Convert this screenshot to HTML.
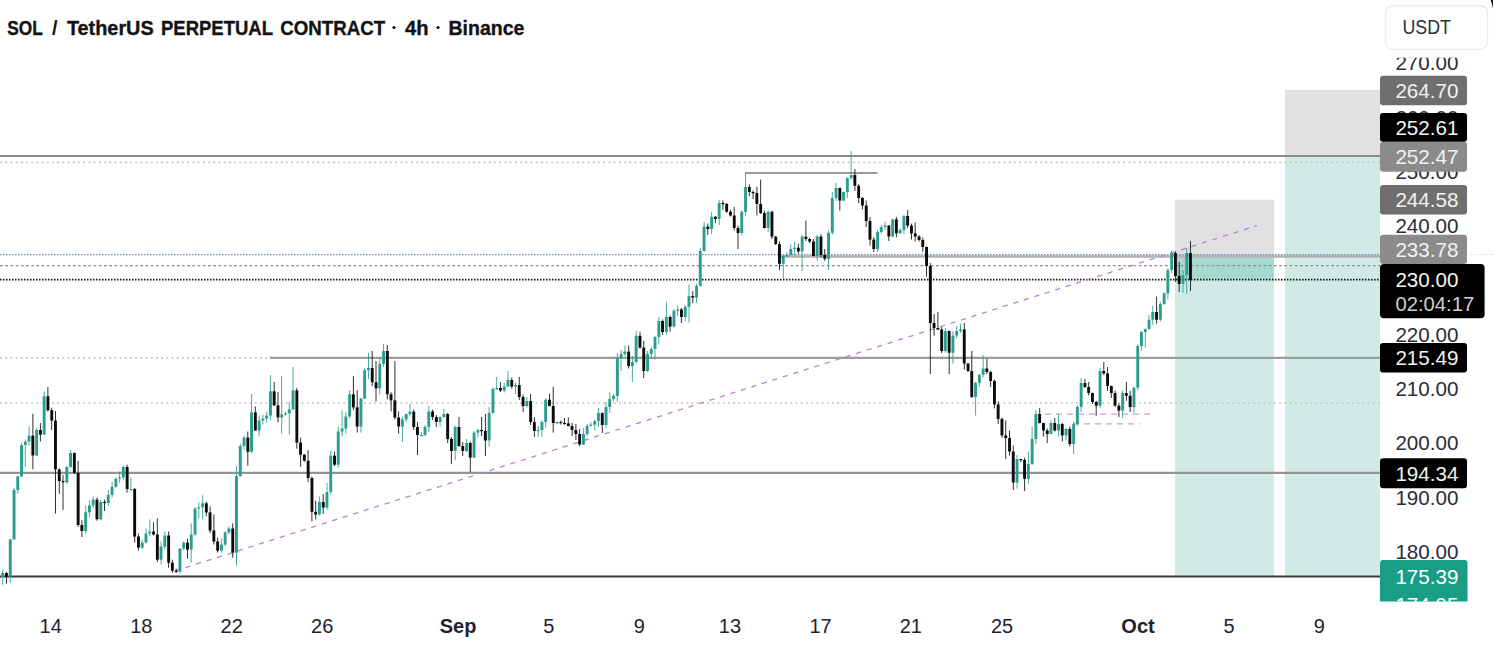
<!DOCTYPE html>
<html><head><meta charset="utf-8"><title>SOL / TetherUS PERPETUAL CONTRACT</title>
<style>
html,body{margin:0;padding:0;background:#fff;}
body{width:1493px;height:646px;overflow:hidden;font-family:"Liberation Sans",sans-serif;}
svg{display:block;font-family:"Liberation Sans",sans-serif;}
</style></head><body>
<svg width="1493" height="646" viewBox="0 0 1493 646">
<rect width="1493" height="646" fill="#fff"/>
<rect x="1175" y="199.7" width="99" height="56.3" fill="#e1e1e1"/>
<rect x="1175" y="256" width="99" height="320" fill="#d0ebe6"/>
<rect x="1175" y="257.5" width="99" height="22" fill="#a6d9d0"/>
<rect x="1285" y="90" width="95" height="67" fill="#e1e1e1"/>
<rect x="1285" y="157" width="95" height="419" fill="#d0ebe6"/>
<line x1="0.0" y1="156.0" x2="1380.0" y2="156.0" stroke="#8a8a8a" stroke-width="2.1"/>
<line x1="0.0" y1="162.4" x2="1380.0" y2="162.4" stroke="#c6c6c6" stroke-width="1.8" stroke-dasharray="2 3.2"/>
<line x1="745.0" y1="173.0" x2="877.5" y2="173.0" stroke="#989898" stroke-width="2.2"/>
<line x1="779.5" y1="256.5" x2="1380.0" y2="256.5" stroke="#b2b2b2" stroke-width="2.7"/>
<line x1="0.0" y1="254.6" x2="1380.0" y2="254.6" stroke="#4f6f9f" stroke-width="1.3" stroke-dasharray="1.5 1.5" stroke-opacity="0.8"/>
<line x1="1468.0" y1="254.6" x2="1493.0" y2="254.6" stroke="#7fa6d8" stroke-width="1.2" stroke-dasharray="1.5 1.5" stroke-opacity="0.3"/>
<line x1="0.0" y1="265.6" x2="1380.0" y2="265.6" stroke="#909090" stroke-width="1.15" stroke-dasharray="2.8 2.4"/>
<line x1="0.0" y1="279.6" x2="1380.0" y2="279.6" stroke="#111" stroke-width="1.6" stroke-dasharray="1.5 1.5"/>
<line x1="0.0" y1="357.8" x2="270.0" y2="357.8" stroke="#c2c2c2" stroke-width="1.7" stroke-dasharray="1.8 3.4"/>
<line x1="270.0" y1="357.8" x2="1380.0" y2="357.8" stroke="#9c9c9c" stroke-width="2.3"/>
<line x1="0.0" y1="403.2" x2="1380.0" y2="403.2" stroke="#c8c8c8" stroke-width="1.7" stroke-dasharray="1.8 3.4"/>
<line x1="0.0" y1="472.8" x2="1380.0" y2="472.8" stroke="#939393" stroke-width="2.2"/>
<line x1="0.0" y1="576.5" x2="1380.0" y2="576.5" stroke="#3a3a3a" stroke-width="1.9"/>
<line x1="175.0" y1="571.0" x2="1257.0" y2="225.6" stroke="#b984cc" stroke-width="1.3" stroke-dasharray="5.2 5.8"/>
<line x1="1045.0" y1="414.0" x2="1152.0" y2="414.0" stroke="#cc9bdc" stroke-width="1.25" stroke-dasharray="6 5"/>
<line x1="1073.0" y1="423.8" x2="1140.0" y2="423.8" stroke="#cc9bdc" stroke-width="1.25" stroke-dasharray="6 5"/>
<line x1="-4.8" y1="575.0" x2="-4.8" y2="582.5" stroke="#2a9d8f" stroke-width="1" stroke-opacity="0.85"/>
<rect x="-6.3" y="578.0" width="2.9" height="3.0" fill="#2a9d8f"/>
<line x1="-1.1" y1="573.0" x2="-1.1" y2="578.5" stroke="#2a9d8f" stroke-width="1" stroke-opacity="0.85"/>
<rect x="-2.5" y="577.0" width="2.9" height="1.2" fill="#2a9d8f"/>
<line x1="2.7" y1="569.6" x2="2.7" y2="584.7" stroke="#2a9d8f" stroke-width="1" stroke-opacity="0.85"/>
<rect x="1.2" y="573.0" width="2.9" height="4.0" fill="#2a9d8f"/>
<line x1="6.5" y1="572.0" x2="6.5" y2="583.7" stroke="#0c0c0c" stroke-width="1" stroke-opacity="0.85"/>
<rect x="5.0" y="573.0" width="2.9" height="3.6" fill="#0c0c0c"/>
<line x1="10.2" y1="538.9" x2="10.2" y2="582.6" stroke="#2a9d8f" stroke-width="1" stroke-opacity="0.85"/>
<rect x="8.8" y="539.4" width="2.9" height="37.2" fill="#2a9d8f"/>
<line x1="14.0" y1="488.0" x2="14.0" y2="539.9" stroke="#2a9d8f" stroke-width="1" stroke-opacity="0.85"/>
<rect x="12.6" y="490.0" width="2.9" height="49.4" fill="#2a9d8f"/>
<line x1="17.8" y1="475.5" x2="17.8" y2="494.0" stroke="#2a9d8f" stroke-width="1" stroke-opacity="0.85"/>
<rect x="16.3" y="476.5" width="2.9" height="13.5" fill="#2a9d8f"/>
<line x1="21.6" y1="442.7" x2="21.6" y2="477.5" stroke="#2a9d8f" stroke-width="1" stroke-opacity="0.85"/>
<rect x="20.1" y="445.0" width="2.9" height="31.5" fill="#2a9d8f"/>
<line x1="25.3" y1="439.5" x2="25.3" y2="467.0" stroke="#2a9d8f" stroke-width="1" stroke-opacity="0.85"/>
<rect x="23.9" y="441.5" width="2.9" height="3.5" fill="#2a9d8f"/>
<line x1="29.1" y1="426.4" x2="29.1" y2="445.5" stroke="#2a9d8f" stroke-width="1" stroke-opacity="0.85"/>
<rect x="27.6" y="435.7" width="2.9" height="5.8" fill="#2a9d8f"/>
<line x1="32.9" y1="413.7" x2="32.9" y2="469.4" stroke="#0c0c0c" stroke-width="1" stroke-opacity="0.85"/>
<rect x="31.4" y="435.7" width="2.9" height="19.8" fill="#0c0c0c"/>
<line x1="36.6" y1="428.0" x2="36.6" y2="456.0" stroke="#2a9d8f" stroke-width="1" stroke-opacity="0.85"/>
<rect x="35.2" y="430.0" width="2.9" height="25.5" fill="#2a9d8f"/>
<line x1="40.4" y1="423.0" x2="40.4" y2="441.5" stroke="#0c0c0c" stroke-width="1" stroke-opacity="0.85"/>
<rect x="39.0" y="430.0" width="2.9" height="4.6" fill="#0c0c0c"/>
<line x1="44.2" y1="391.6" x2="44.2" y2="435.1" stroke="#2a9d8f" stroke-width="1" stroke-opacity="0.85"/>
<rect x="42.7" y="396.3" width="2.9" height="38.3" fill="#2a9d8f"/>
<line x1="47.9" y1="387.0" x2="47.9" y2="411.7" stroke="#0c0c0c" stroke-width="1" stroke-opacity="0.85"/>
<rect x="46.5" y="396.3" width="2.9" height="13.9" fill="#0c0c0c"/>
<line x1="51.7" y1="407.7" x2="51.7" y2="430.0" stroke="#0c0c0c" stroke-width="1" stroke-opacity="0.85"/>
<rect x="50.3" y="410.2" width="2.9" height="10.4" fill="#0c0c0c"/>
<line x1="55.5" y1="411.0" x2="55.5" y2="513.5" stroke="#0c0c0c" stroke-width="1" stroke-opacity="0.85"/>
<rect x="54.0" y="420.6" width="2.9" height="48.8" fill="#0c0c0c"/>
<line x1="59.3" y1="468.4" x2="59.3" y2="493.8" stroke="#0c0c0c" stroke-width="1" stroke-opacity="0.85"/>
<rect x="57.8" y="469.4" width="2.9" height="11.6" fill="#0c0c0c"/>
<line x1="63.0" y1="475.0" x2="63.0" y2="510.0" stroke="#0c0c0c" stroke-width="1" stroke-opacity="0.85"/>
<rect x="61.6" y="481.0" width="2.9" height="1.2" fill="#0c0c0c"/>
<line x1="66.8" y1="466.0" x2="66.8" y2="484.2" stroke="#2a9d8f" stroke-width="1" stroke-opacity="0.85"/>
<rect x="65.4" y="467.0" width="2.9" height="15.2" fill="#2a9d8f"/>
<line x1="70.6" y1="450.0" x2="70.6" y2="468.0" stroke="#2a9d8f" stroke-width="1" stroke-opacity="0.85"/>
<rect x="69.1" y="453.0" width="2.9" height="14.0" fill="#2a9d8f"/>
<line x1="74.3" y1="452.5" x2="74.3" y2="473.9" stroke="#0c0c0c" stroke-width="1" stroke-opacity="0.85"/>
<rect x="72.9" y="453.0" width="2.9" height="19.9" fill="#0c0c0c"/>
<line x1="78.1" y1="461.0" x2="78.1" y2="527.0" stroke="#0c0c0c" stroke-width="1" stroke-opacity="0.85"/>
<rect x="76.7" y="472.9" width="2.9" height="52.1" fill="#0c0c0c"/>
<line x1="81.9" y1="520.0" x2="81.9" y2="537.0" stroke="#0c0c0c" stroke-width="1" stroke-opacity="0.85"/>
<rect x="80.4" y="525.0" width="2.9" height="6.0" fill="#0c0c0c"/>
<line x1="85.7" y1="505.4" x2="85.7" y2="534.0" stroke="#2a9d8f" stroke-width="1" stroke-opacity="0.85"/>
<rect x="84.2" y="512.3" width="2.9" height="18.7" fill="#2a9d8f"/>
<line x1="89.4" y1="500.4" x2="89.4" y2="517.3" stroke="#2a9d8f" stroke-width="1" stroke-opacity="0.85"/>
<rect x="88.0" y="505.4" width="2.9" height="6.9" fill="#2a9d8f"/>
<line x1="93.2" y1="496.6" x2="93.2" y2="507.9" stroke="#2a9d8f" stroke-width="1" stroke-opacity="0.85"/>
<rect x="91.7" y="499.6" width="2.9" height="5.8" fill="#2a9d8f"/>
<line x1="97.0" y1="497.6" x2="97.0" y2="520.8" stroke="#0c0c0c" stroke-width="1" stroke-opacity="0.85"/>
<rect x="95.5" y="499.6" width="2.9" height="19.7" fill="#0c0c0c"/>
<line x1="100.7" y1="499.9" x2="100.7" y2="520.3" stroke="#2a9d8f" stroke-width="1" stroke-opacity="0.85"/>
<rect x="99.3" y="501.9" width="2.9" height="17.4" fill="#2a9d8f"/>
<line x1="104.5" y1="499.6" x2="104.5" y2="511.0" stroke="#0c0c0c" stroke-width="1" stroke-opacity="0.85"/>
<rect x="103.1" y="501.9" width="2.9" height="1.2" fill="#0c0c0c"/>
<line x1="108.3" y1="489.9" x2="108.3" y2="506.0" stroke="#2a9d8f" stroke-width="1" stroke-opacity="0.85"/>
<rect x="106.8" y="494.9" width="2.9" height="8.1" fill="#2a9d8f"/>
<line x1="112.1" y1="481.8" x2="112.1" y2="497.4" stroke="#2a9d8f" stroke-width="1" stroke-opacity="0.85"/>
<rect x="110.6" y="486.8" width="2.9" height="8.1" fill="#2a9d8f"/>
<line x1="115.8" y1="477.7" x2="115.8" y2="487.8" stroke="#2a9d8f" stroke-width="1" stroke-opacity="0.85"/>
<rect x="114.4" y="478.7" width="2.9" height="8.1" fill="#2a9d8f"/>
<line x1="119.6" y1="471.5" x2="119.6" y2="482.7" stroke="#2a9d8f" stroke-width="1" stroke-opacity="0.85"/>
<rect x="118.1" y="477.5" width="2.9" height="1.2" fill="#2a9d8f"/>
<line x1="123.4" y1="465.5" x2="123.4" y2="480.5" stroke="#2a9d8f" stroke-width="1" stroke-opacity="0.85"/>
<rect x="121.9" y="467.0" width="2.9" height="10.5" fill="#2a9d8f"/>
<line x1="127.1" y1="464.7" x2="127.1" y2="492.6" stroke="#0c0c0c" stroke-width="1" stroke-opacity="0.85"/>
<rect x="125.7" y="467.0" width="2.9" height="22.0" fill="#0c0c0c"/>
<line x1="130.9" y1="477.5" x2="130.9" y2="490.3" stroke="#2a9d8f" stroke-width="1" stroke-opacity="0.85"/>
<rect x="129.5" y="489.0" width="2.9" height="1.2" fill="#2a9d8f"/>
<line x1="134.7" y1="488.0" x2="134.7" y2="542.5" stroke="#0c0c0c" stroke-width="1" stroke-opacity="0.85"/>
<rect x="133.2" y="489.0" width="2.9" height="47.5" fill="#0c0c0c"/>
<line x1="138.4" y1="533.5" x2="138.4" y2="550.6" stroke="#0c0c0c" stroke-width="1" stroke-opacity="0.85"/>
<rect x="137.0" y="536.5" width="2.9" height="11.1" fill="#0c0c0c"/>
<line x1="142.2" y1="539.5" x2="142.2" y2="549.6" stroke="#2a9d8f" stroke-width="1" stroke-opacity="0.85"/>
<rect x="140.8" y="542.5" width="2.9" height="5.1" fill="#2a9d8f"/>
<line x1="146.0" y1="528.5" x2="146.0" y2="543.5" stroke="#2a9d8f" stroke-width="1" stroke-opacity="0.85"/>
<rect x="144.5" y="533.5" width="2.9" height="9.0" fill="#2a9d8f"/>
<line x1="149.8" y1="519.4" x2="149.8" y2="536.0" stroke="#2a9d8f" stroke-width="1" stroke-opacity="0.85"/>
<rect x="148.3" y="531.5" width="2.9" height="2.0" fill="#2a9d8f"/>
<line x1="153.5" y1="522.4" x2="153.5" y2="535.5" stroke="#0c0c0c" stroke-width="1" stroke-opacity="0.85"/>
<rect x="152.1" y="531.5" width="2.9" height="3.0" fill="#0c0c0c"/>
<line x1="157.3" y1="518.4" x2="157.3" y2="562.2" stroke="#0c0c0c" stroke-width="1" stroke-opacity="0.85"/>
<rect x="155.9" y="534.5" width="2.9" height="25.2" fill="#0c0c0c"/>
<line x1="161.1" y1="541.6" x2="161.1" y2="564.7" stroke="#2a9d8f" stroke-width="1" stroke-opacity="0.85"/>
<rect x="159.6" y="546.6" width="2.9" height="13.1" fill="#2a9d8f"/>
<line x1="164.8" y1="531.5" x2="164.8" y2="549.6" stroke="#2a9d8f" stroke-width="1" stroke-opacity="0.85"/>
<rect x="163.4" y="535.5" width="2.9" height="11.1" fill="#2a9d8f"/>
<line x1="168.6" y1="531.5" x2="168.6" y2="567.7" stroke="#0c0c0c" stroke-width="1" stroke-opacity="0.85"/>
<rect x="167.2" y="535.5" width="2.9" height="27.2" fill="#0c0c0c"/>
<line x1="172.4" y1="559.7" x2="172.4" y2="572.9" stroke="#0c0c0c" stroke-width="1" stroke-opacity="0.85"/>
<rect x="170.9" y="562.7" width="2.9" height="8.0" fill="#0c0c0c"/>
<line x1="176.2" y1="568.5" x2="176.2" y2="573.0" stroke="#0c0c0c" stroke-width="1" stroke-opacity="0.85"/>
<rect x="174.7" y="570.7" width="2.9" height="1.2" fill="#0c0c0c"/>
<line x1="179.9" y1="548.1" x2="179.9" y2="573.7" stroke="#2a9d8f" stroke-width="1" stroke-opacity="0.85"/>
<rect x="178.5" y="548.6" width="2.9" height="23.1" fill="#2a9d8f"/>
<line x1="183.7" y1="541.5" x2="183.7" y2="550.1" stroke="#2a9d8f" stroke-width="1" stroke-opacity="0.85"/>
<rect x="182.2" y="542.6" width="2.9" height="6.0" fill="#2a9d8f"/>
<line x1="187.5" y1="538.5" x2="187.5" y2="558.7" stroke="#0c0c0c" stroke-width="1" stroke-opacity="0.85"/>
<rect x="186.0" y="542.6" width="2.9" height="7.0" fill="#0c0c0c"/>
<line x1="191.2" y1="523.4" x2="191.2" y2="562.7" stroke="#2a9d8f" stroke-width="1" stroke-opacity="0.85"/>
<rect x="189.8" y="534.5" width="2.9" height="15.1" fill="#2a9d8f"/>
<line x1="195.0" y1="507.4" x2="195.0" y2="536.0" stroke="#2a9d8f" stroke-width="1" stroke-opacity="0.85"/>
<rect x="193.6" y="508.4" width="2.9" height="26.1" fill="#2a9d8f"/>
<line x1="198.8" y1="502.3" x2="198.8" y2="518.4" stroke="#2a9d8f" stroke-width="1" stroke-opacity="0.85"/>
<rect x="197.3" y="507.3" width="2.9" height="1.2" fill="#2a9d8f"/>
<line x1="202.6" y1="495.3" x2="202.6" y2="519.4" stroke="#2a9d8f" stroke-width="1" stroke-opacity="0.85"/>
<rect x="201.1" y="503.3" width="2.9" height="4.0" fill="#2a9d8f"/>
<line x1="206.3" y1="501.8" x2="206.3" y2="516.4" stroke="#0c0c0c" stroke-width="1" stroke-opacity="0.85"/>
<rect x="204.9" y="503.3" width="2.9" height="9.1" fill="#0c0c0c"/>
<line x1="210.1" y1="506.4" x2="210.1" y2="533.0" stroke="#0c0c0c" stroke-width="1" stroke-opacity="0.85"/>
<rect x="208.6" y="512.4" width="2.9" height="18.1" fill="#0c0c0c"/>
<line x1="213.9" y1="514.4" x2="213.9" y2="544.5" stroke="#0c0c0c" stroke-width="1" stroke-opacity="0.85"/>
<rect x="212.4" y="530.5" width="2.9" height="11.0" fill="#0c0c0c"/>
<line x1="217.6" y1="537.5" x2="217.6" y2="552.6" stroke="#0c0c0c" stroke-width="1" stroke-opacity="0.85"/>
<rect x="216.2" y="541.5" width="2.9" height="9.1" fill="#0c0c0c"/>
<line x1="221.4" y1="538.5" x2="221.4" y2="552.6" stroke="#2a9d8f" stroke-width="1" stroke-opacity="0.85"/>
<rect x="220.0" y="544.6" width="2.9" height="6.0" fill="#2a9d8f"/>
<line x1="225.2" y1="531.0" x2="225.2" y2="546.1" stroke="#2a9d8f" stroke-width="1" stroke-opacity="0.85"/>
<rect x="223.7" y="532.5" width="2.9" height="12.1" fill="#2a9d8f"/>
<line x1="228.9" y1="526.5" x2="228.9" y2="534.5" stroke="#2a9d8f" stroke-width="1" stroke-opacity="0.85"/>
<rect x="227.5" y="528.5" width="2.9" height="4.0" fill="#2a9d8f"/>
<line x1="232.7" y1="523.4" x2="232.7" y2="557.6" stroke="#0c0c0c" stroke-width="1" stroke-opacity="0.85"/>
<rect x="231.3" y="528.5" width="2.9" height="24.1" fill="#0c0c0c"/>
<line x1="236.5" y1="466.0" x2="236.5" y2="565.7" stroke="#2a9d8f" stroke-width="1" stroke-opacity="0.85"/>
<rect x="235.0" y="476.2" width="2.9" height="76.4" fill="#2a9d8f"/>
<line x1="240.3" y1="443.5" x2="240.3" y2="476.7" stroke="#2a9d8f" stroke-width="1" stroke-opacity="0.85"/>
<rect x="238.8" y="446.0" width="2.9" height="30.2" fill="#2a9d8f"/>
<line x1="244.0" y1="436.1" x2="244.0" y2="450.0" stroke="#2a9d8f" stroke-width="1" stroke-opacity="0.85"/>
<rect x="242.6" y="437.6" width="2.9" height="8.4" fill="#2a9d8f"/>
<line x1="247.8" y1="431.6" x2="247.8" y2="465.8" stroke="#0c0c0c" stroke-width="1" stroke-opacity="0.85"/>
<rect x="246.4" y="437.6" width="2.9" height="14.1" fill="#0c0c0c"/>
<line x1="251.6" y1="394.0" x2="251.6" y2="453.2" stroke="#2a9d8f" stroke-width="1" stroke-opacity="0.85"/>
<rect x="250.1" y="412.4" width="2.9" height="39.3" fill="#2a9d8f"/>
<line x1="255.3" y1="406.4" x2="255.3" y2="431.0" stroke="#0c0c0c" stroke-width="1" stroke-opacity="0.85"/>
<rect x="253.9" y="412.4" width="2.9" height="18.1" fill="#0c0c0c"/>
<line x1="259.1" y1="415.5" x2="259.1" y2="436.5" stroke="#2a9d8f" stroke-width="1" stroke-opacity="0.85"/>
<rect x="257.7" y="420.5" width="2.9" height="10.0" fill="#2a9d8f"/>
<line x1="262.9" y1="414.5" x2="262.9" y2="424.5" stroke="#2a9d8f" stroke-width="1" stroke-opacity="0.85"/>
<rect x="261.4" y="418.5" width="2.9" height="2.0" fill="#2a9d8f"/>
<line x1="266.7" y1="411.5" x2="266.7" y2="422.5" stroke="#2a9d8f" stroke-width="1" stroke-opacity="0.85"/>
<rect x="265.2" y="415.5" width="2.9" height="3.0" fill="#2a9d8f"/>
<line x1="270.4" y1="375.0" x2="270.4" y2="420.5" stroke="#2a9d8f" stroke-width="1" stroke-opacity="0.85"/>
<rect x="269.0" y="391.3" width="2.9" height="24.2" fill="#2a9d8f"/>
<line x1="274.2" y1="382.0" x2="274.2" y2="405.9" stroke="#0c0c0c" stroke-width="1" stroke-opacity="0.85"/>
<rect x="272.7" y="391.3" width="2.9" height="14.1" fill="#0c0c0c"/>
<line x1="278.0" y1="392.0" x2="278.0" y2="422.5" stroke="#0c0c0c" stroke-width="1" stroke-opacity="0.85"/>
<rect x="276.5" y="405.4" width="2.9" height="12.1" fill="#0c0c0c"/>
<line x1="281.7" y1="376.0" x2="281.7" y2="433.6" stroke="#2a9d8f" stroke-width="1" stroke-opacity="0.85"/>
<rect x="280.3" y="414.5" width="2.9" height="3.0" fill="#2a9d8f"/>
<line x1="285.5" y1="412.0" x2="285.5" y2="415.5" stroke="#2a9d8f" stroke-width="1" stroke-opacity="0.85"/>
<rect x="284.1" y="413.5" width="2.9" height="1.2" fill="#2a9d8f"/>
<line x1="289.3" y1="402.0" x2="289.3" y2="434.6" stroke="#2a9d8f" stroke-width="1" stroke-opacity="0.85"/>
<rect x="287.8" y="409.4" width="2.9" height="4.1" fill="#2a9d8f"/>
<line x1="293.0" y1="367.0" x2="293.0" y2="409.9" stroke="#2a9d8f" stroke-width="1" stroke-opacity="0.85"/>
<rect x="291.6" y="390.3" width="2.9" height="19.1" fill="#2a9d8f"/>
<line x1="296.8" y1="388.0" x2="296.8" y2="448.7" stroke="#0c0c0c" stroke-width="1" stroke-opacity="0.85"/>
<rect x="295.4" y="390.3" width="2.9" height="52.3" fill="#0c0c0c"/>
<line x1="300.6" y1="437.6" x2="300.6" y2="466.8" stroke="#0c0c0c" stroke-width="1" stroke-opacity="0.85"/>
<rect x="299.1" y="442.6" width="2.9" height="12.1" fill="#0c0c0c"/>
<line x1="304.4" y1="454.2" x2="304.4" y2="461.7" stroke="#0c0c0c" stroke-width="1" stroke-opacity="0.85"/>
<rect x="302.9" y="454.7" width="2.9" height="6.0" fill="#0c0c0c"/>
<line x1="308.1" y1="450.0" x2="308.1" y2="482.0" stroke="#0c0c0c" stroke-width="1" stroke-opacity="0.85"/>
<rect x="306.7" y="460.7" width="2.9" height="17.3" fill="#0c0c0c"/>
<line x1="311.9" y1="476.5" x2="311.9" y2="521.5" stroke="#0c0c0c" stroke-width="1" stroke-opacity="0.85"/>
<rect x="310.5" y="478.0" width="2.9" height="33.8" fill="#0c0c0c"/>
<line x1="315.7" y1="500.6" x2="315.7" y2="519.4" stroke="#0c0c0c" stroke-width="1" stroke-opacity="0.85"/>
<rect x="314.2" y="511.8" width="2.9" height="2.7" fill="#0c0c0c"/>
<line x1="319.4" y1="496.5" x2="319.4" y2="515.5" stroke="#2a9d8f" stroke-width="1" stroke-opacity="0.85"/>
<rect x="318.0" y="502.0" width="2.9" height="12.5" fill="#2a9d8f"/>
<line x1="323.2" y1="494.0" x2="323.2" y2="514.0" stroke="#0c0c0c" stroke-width="1" stroke-opacity="0.85"/>
<rect x="321.8" y="502.0" width="2.9" height="5.6" fill="#0c0c0c"/>
<line x1="327.0" y1="483.0" x2="327.0" y2="510.0" stroke="#2a9d8f" stroke-width="1" stroke-opacity="0.85"/>
<rect x="325.5" y="492.0" width="2.9" height="15.6" fill="#2a9d8f"/>
<line x1="330.8" y1="450.7" x2="330.8" y2="494.5" stroke="#2a9d8f" stroke-width="1" stroke-opacity="0.85"/>
<rect x="329.3" y="455.7" width="2.9" height="36.3" fill="#2a9d8f"/>
<line x1="334.5" y1="451.7" x2="334.5" y2="466.2" stroke="#0c0c0c" stroke-width="1" stroke-opacity="0.85"/>
<rect x="333.1" y="455.7" width="2.9" height="9.0" fill="#0c0c0c"/>
<line x1="338.3" y1="426.5" x2="338.3" y2="467.7" stroke="#2a9d8f" stroke-width="1" stroke-opacity="0.85"/>
<rect x="336.8" y="431.5" width="2.9" height="33.2" fill="#2a9d8f"/>
<line x1="342.1" y1="410.4" x2="342.1" y2="436.5" stroke="#2a9d8f" stroke-width="1" stroke-opacity="0.85"/>
<rect x="340.6" y="428.5" width="2.9" height="3.0" fill="#2a9d8f"/>
<line x1="345.8" y1="412.4" x2="345.8" y2="433.6" stroke="#2a9d8f" stroke-width="1" stroke-opacity="0.85"/>
<rect x="344.4" y="416.5" width="2.9" height="12.0" fill="#2a9d8f"/>
<line x1="349.6" y1="390.3" x2="349.6" y2="418.5" stroke="#2a9d8f" stroke-width="1" stroke-opacity="0.85"/>
<rect x="348.2" y="394.3" width="2.9" height="22.2" fill="#2a9d8f"/>
<line x1="353.4" y1="376.2" x2="353.4" y2="410.4" stroke="#0c0c0c" stroke-width="1" stroke-opacity="0.85"/>
<rect x="351.9" y="394.3" width="2.9" height="13.1" fill="#0c0c0c"/>
<line x1="357.2" y1="390.3" x2="357.2" y2="432.5" stroke="#0c0c0c" stroke-width="1" stroke-opacity="0.85"/>
<rect x="355.7" y="407.4" width="2.9" height="19.1" fill="#0c0c0c"/>
<line x1="360.9" y1="397.9" x2="360.9" y2="432.6" stroke="#2a9d8f" stroke-width="1" stroke-opacity="0.85"/>
<rect x="359.5" y="398.4" width="2.9" height="28.1" fill="#2a9d8f"/>
<line x1="364.7" y1="367.7" x2="364.7" y2="399.4" stroke="#2a9d8f" stroke-width="1" stroke-opacity="0.85"/>
<rect x="363.2" y="370.2" width="2.9" height="28.2" fill="#2a9d8f"/>
<line x1="368.5" y1="353.0" x2="368.5" y2="379.0" stroke="#2a9d8f" stroke-width="1" stroke-opacity="0.85"/>
<rect x="367.0" y="368.0" width="2.9" height="2.2" fill="#2a9d8f"/>
<line x1="372.2" y1="351.0" x2="372.2" y2="386.3" stroke="#0c0c0c" stroke-width="1" stroke-opacity="0.85"/>
<rect x="370.8" y="368.0" width="2.9" height="14.3" fill="#0c0c0c"/>
<line x1="376.0" y1="361.0" x2="376.0" y2="401.4" stroke="#0c0c0c" stroke-width="1" stroke-opacity="0.85"/>
<rect x="374.6" y="382.3" width="2.9" height="6.0" fill="#0c0c0c"/>
<line x1="379.8" y1="358.0" x2="379.8" y2="394.3" stroke="#2a9d8f" stroke-width="1" stroke-opacity="0.85"/>
<rect x="378.3" y="364.0" width="2.9" height="24.3" fill="#2a9d8f"/>
<line x1="383.5" y1="344.0" x2="383.5" y2="367.0" stroke="#2a9d8f" stroke-width="1" stroke-opacity="0.85"/>
<rect x="382.1" y="351.0" width="2.9" height="13.0" fill="#2a9d8f"/>
<line x1="387.3" y1="345.0" x2="387.3" y2="399.4" stroke="#0c0c0c" stroke-width="1" stroke-opacity="0.85"/>
<rect x="385.9" y="351.0" width="2.9" height="43.3" fill="#0c0c0c"/>
<line x1="391.1" y1="392.3" x2="391.1" y2="411.4" stroke="#0c0c0c" stroke-width="1" stroke-opacity="0.85"/>
<rect x="389.6" y="394.3" width="2.9" height="6.1" fill="#0c0c0c"/>
<line x1="394.9" y1="361.0" x2="394.9" y2="419.5" stroke="#0c0c0c" stroke-width="1" stroke-opacity="0.85"/>
<rect x="393.4" y="400.4" width="2.9" height="17.1" fill="#0c0c0c"/>
<line x1="398.6" y1="411.5" x2="398.6" y2="433.6" stroke="#0c0c0c" stroke-width="1" stroke-opacity="0.85"/>
<rect x="397.2" y="417.5" width="2.9" height="9.0" fill="#0c0c0c"/>
<line x1="402.4" y1="416.5" x2="402.4" y2="442.0" stroke="#2a9d8f" stroke-width="1" stroke-opacity="0.85"/>
<rect x="401.0" y="419.5" width="2.9" height="7.0" fill="#2a9d8f"/>
<line x1="406.2" y1="413.5" x2="406.2" y2="422.0" stroke="#2a9d8f" stroke-width="1" stroke-opacity="0.85"/>
<rect x="404.7" y="414.0" width="2.9" height="5.5" fill="#2a9d8f"/>
<line x1="409.9" y1="404.0" x2="409.9" y2="416.5" stroke="#2a9d8f" stroke-width="1" stroke-opacity="0.85"/>
<rect x="408.5" y="411.6" width="2.9" height="2.4" fill="#2a9d8f"/>
<line x1="413.7" y1="409.6" x2="413.7" y2="430.0" stroke="#0c0c0c" stroke-width="1" stroke-opacity="0.85"/>
<rect x="412.3" y="411.6" width="2.9" height="15.4" fill="#0c0c0c"/>
<line x1="417.5" y1="422.0" x2="417.5" y2="455.0" stroke="#0c0c0c" stroke-width="1" stroke-opacity="0.85"/>
<rect x="416.0" y="427.0" width="2.9" height="8.0" fill="#0c0c0c"/>
<line x1="421.3" y1="432.0" x2="421.3" y2="436.0" stroke="#2a9d8f" stroke-width="1" stroke-opacity="0.85"/>
<rect x="419.8" y="435.0" width="2.9" height="1.2" fill="#2a9d8f"/>
<line x1="425.0" y1="425.0" x2="425.0" y2="436.0" stroke="#2a9d8f" stroke-width="1" stroke-opacity="0.85"/>
<rect x="423.6" y="427.0" width="2.9" height="8.0" fill="#2a9d8f"/>
<line x1="428.8" y1="406.0" x2="428.8" y2="432.0" stroke="#2a9d8f" stroke-width="1" stroke-opacity="0.85"/>
<rect x="427.3" y="411.6" width="2.9" height="15.4" fill="#2a9d8f"/>
<line x1="432.6" y1="409.6" x2="432.6" y2="420.0" stroke="#0c0c0c" stroke-width="1" stroke-opacity="0.85"/>
<rect x="431.1" y="411.6" width="2.9" height="5.4" fill="#0c0c0c"/>
<line x1="436.3" y1="415.0" x2="436.3" y2="427.0" stroke="#0c0c0c" stroke-width="1" stroke-opacity="0.85"/>
<rect x="434.9" y="417.0" width="2.9" height="5.0" fill="#0c0c0c"/>
<line x1="440.1" y1="416.5" x2="440.1" y2="427.0" stroke="#2a9d8f" stroke-width="1" stroke-opacity="0.85"/>
<rect x="438.7" y="417.0" width="2.9" height="5.0" fill="#2a9d8f"/>
<line x1="443.9" y1="409.0" x2="443.9" y2="418.0" stroke="#2a9d8f" stroke-width="1" stroke-opacity="0.85"/>
<rect x="442.4" y="414.0" width="2.9" height="3.0" fill="#2a9d8f"/>
<line x1="447.7" y1="413.0" x2="447.7" y2="443.0" stroke="#0c0c0c" stroke-width="1" stroke-opacity="0.85"/>
<rect x="446.2" y="414.0" width="2.9" height="25.0" fill="#0c0c0c"/>
<line x1="451.4" y1="437.0" x2="451.4" y2="464.0" stroke="#0c0c0c" stroke-width="1" stroke-opacity="0.85"/>
<rect x="450.0" y="439.0" width="2.9" height="12.0" fill="#0c0c0c"/>
<line x1="455.2" y1="425.5" x2="455.2" y2="460.0" stroke="#2a9d8f" stroke-width="1" stroke-opacity="0.85"/>
<rect x="453.7" y="427.0" width="2.9" height="24.0" fill="#2a9d8f"/>
<line x1="459.0" y1="417.0" x2="459.0" y2="447.0" stroke="#0c0c0c" stroke-width="1" stroke-opacity="0.85"/>
<rect x="457.5" y="427.0" width="2.9" height="19.0" fill="#0c0c0c"/>
<line x1="462.7" y1="442.0" x2="462.7" y2="456.0" stroke="#0c0c0c" stroke-width="1" stroke-opacity="0.85"/>
<rect x="461.3" y="446.0" width="2.9" height="5.0" fill="#0c0c0c"/>
<line x1="466.5" y1="439.0" x2="466.5" y2="452.0" stroke="#2a9d8f" stroke-width="1" stroke-opacity="0.85"/>
<rect x="465.1" y="443.0" width="2.9" height="8.0" fill="#2a9d8f"/>
<line x1="470.3" y1="441.5" x2="470.3" y2="472.0" stroke="#0c0c0c" stroke-width="1" stroke-opacity="0.85"/>
<rect x="468.8" y="443.0" width="2.9" height="14.6" fill="#0c0c0c"/>
<line x1="474.0" y1="431.1" x2="474.0" y2="458.1" stroke="#2a9d8f" stroke-width="1" stroke-opacity="0.85"/>
<rect x="472.6" y="432.6" width="2.9" height="25.0" fill="#2a9d8f"/>
<line x1="477.8" y1="428.5" x2="477.8" y2="437.6" stroke="#2a9d8f" stroke-width="1" stroke-opacity="0.85"/>
<rect x="476.4" y="430.0" width="2.9" height="2.6" fill="#2a9d8f"/>
<line x1="481.6" y1="417.0" x2="481.6" y2="436.0" stroke="#0c0c0c" stroke-width="1" stroke-opacity="0.85"/>
<rect x="480.1" y="430.0" width="2.9" height="1.2" fill="#0c0c0c"/>
<line x1="485.4" y1="414.0" x2="485.4" y2="456.0" stroke="#0c0c0c" stroke-width="1" stroke-opacity="0.85"/>
<rect x="483.9" y="431.0" width="2.9" height="9.5" fill="#0c0c0c"/>
<line x1="489.1" y1="407.0" x2="489.1" y2="446.5" stroke="#2a9d8f" stroke-width="1" stroke-opacity="0.85"/>
<rect x="487.7" y="413.0" width="2.9" height="27.5" fill="#2a9d8f"/>
<line x1="492.9" y1="387.5" x2="492.9" y2="413.5" stroke="#2a9d8f" stroke-width="1" stroke-opacity="0.85"/>
<rect x="491.5" y="389.0" width="2.9" height="24.0" fill="#2a9d8f"/>
<line x1="496.7" y1="377.0" x2="496.7" y2="390.0" stroke="#2a9d8f" stroke-width="1" stroke-opacity="0.85"/>
<rect x="495.2" y="388.0" width="2.9" height="1.2" fill="#2a9d8f"/>
<line x1="500.4" y1="382.0" x2="500.4" y2="392.0" stroke="#0c0c0c" stroke-width="1" stroke-opacity="0.85"/>
<rect x="499.0" y="388.0" width="2.9" height="2.5" fill="#0c0c0c"/>
<line x1="504.2" y1="382.6" x2="504.2" y2="392.5" stroke="#2a9d8f" stroke-width="1" stroke-opacity="0.85"/>
<rect x="502.8" y="386.6" width="2.9" height="3.9" fill="#2a9d8f"/>
<line x1="508.0" y1="371.0" x2="508.0" y2="387.1" stroke="#2a9d8f" stroke-width="1" stroke-opacity="0.85"/>
<rect x="506.5" y="380.0" width="2.9" height="6.6" fill="#2a9d8f"/>
<line x1="511.8" y1="377.5" x2="511.8" y2="388.6" stroke="#0c0c0c" stroke-width="1" stroke-opacity="0.85"/>
<rect x="510.3" y="380.0" width="2.9" height="6.6" fill="#0c0c0c"/>
<line x1="515.5" y1="382.5" x2="515.5" y2="394.0" stroke="#2a9d8f" stroke-width="1" stroke-opacity="0.85"/>
<rect x="514.1" y="385.0" width="2.9" height="1.6" fill="#2a9d8f"/>
<line x1="519.3" y1="377.0" x2="519.3" y2="400.0" stroke="#0c0c0c" stroke-width="1" stroke-opacity="0.85"/>
<rect x="517.8" y="385.0" width="2.9" height="12.0" fill="#0c0c0c"/>
<line x1="523.1" y1="394.5" x2="523.1" y2="412.0" stroke="#0c0c0c" stroke-width="1" stroke-opacity="0.85"/>
<rect x="521.6" y="397.0" width="2.9" height="9.0" fill="#0c0c0c"/>
<line x1="526.8" y1="397.0" x2="526.8" y2="407.5" stroke="#2a9d8f" stroke-width="1" stroke-opacity="0.85"/>
<rect x="525.4" y="401.0" width="2.9" height="5.0" fill="#2a9d8f"/>
<line x1="530.6" y1="394.0" x2="530.6" y2="425.0" stroke="#0c0c0c" stroke-width="1" stroke-opacity="0.85"/>
<rect x="529.2" y="401.0" width="2.9" height="21.0" fill="#0c0c0c"/>
<line x1="534.4" y1="417.0" x2="534.4" y2="437.0" stroke="#0c0c0c" stroke-width="1" stroke-opacity="0.85"/>
<rect x="532.9" y="422.0" width="2.9" height="9.0" fill="#0c0c0c"/>
<line x1="538.2" y1="426.0" x2="538.2" y2="437.0" stroke="#2a9d8f" stroke-width="1" stroke-opacity="0.85"/>
<rect x="536.7" y="430.0" width="2.9" height="1.2" fill="#2a9d8f"/>
<line x1="541.9" y1="420.5" x2="541.9" y2="436.6" stroke="#2a9d8f" stroke-width="1" stroke-opacity="0.85"/>
<rect x="540.5" y="422.0" width="2.9" height="8.0" fill="#2a9d8f"/>
<line x1="545.7" y1="398.2" x2="545.7" y2="428.0" stroke="#2a9d8f" stroke-width="1" stroke-opacity="0.85"/>
<rect x="544.2" y="399.7" width="2.9" height="22.3" fill="#2a9d8f"/>
<line x1="549.5" y1="393.7" x2="549.5" y2="406.5" stroke="#0c0c0c" stroke-width="1" stroke-opacity="0.85"/>
<rect x="548.0" y="399.7" width="2.9" height="6.3" fill="#0c0c0c"/>
<line x1="553.2" y1="386.6" x2="553.2" y2="432.6" stroke="#0c0c0c" stroke-width="1" stroke-opacity="0.85"/>
<rect x="551.8" y="406.0" width="2.9" height="17.0" fill="#0c0c0c"/>
<line x1="557.0" y1="421.5" x2="557.0" y2="424.5" stroke="#2a9d8f" stroke-width="1" stroke-opacity="0.85"/>
<rect x="555.6" y="422.0" width="2.9" height="1.2" fill="#2a9d8f"/>
<line x1="560.8" y1="420.5" x2="560.8" y2="424.5" stroke="#0c0c0c" stroke-width="1" stroke-opacity="0.85"/>
<rect x="559.3" y="422.0" width="2.9" height="1.2" fill="#0c0c0c"/>
<line x1="564.5" y1="418.0" x2="564.5" y2="424.4" stroke="#0c0c0c" stroke-width="1" stroke-opacity="0.85"/>
<rect x="563.1" y="423.0" width="2.9" height="1.2" fill="#0c0c0c"/>
<line x1="568.3" y1="417.4" x2="568.3" y2="426.5" stroke="#0c0c0c" stroke-width="1" stroke-opacity="0.85"/>
<rect x="566.9" y="423.4" width="2.9" height="2.6" fill="#0c0c0c"/>
<line x1="572.1" y1="423.0" x2="572.1" y2="436.0" stroke="#0c0c0c" stroke-width="1" stroke-opacity="0.85"/>
<rect x="570.6" y="426.0" width="2.9" height="4.0" fill="#0c0c0c"/>
<line x1="575.9" y1="424.0" x2="575.9" y2="440.0" stroke="#0c0c0c" stroke-width="1" stroke-opacity="0.85"/>
<rect x="574.4" y="430.0" width="2.9" height="4.0" fill="#0c0c0c"/>
<line x1="579.6" y1="429.0" x2="579.6" y2="446.0" stroke="#0c0c0c" stroke-width="1" stroke-opacity="0.85"/>
<rect x="578.2" y="434.0" width="2.9" height="10.5" fill="#0c0c0c"/>
<line x1="583.4" y1="428.0" x2="583.4" y2="445.0" stroke="#2a9d8f" stroke-width="1" stroke-opacity="0.85"/>
<rect x="582.0" y="434.0" width="2.9" height="10.5" fill="#2a9d8f"/>
<line x1="587.2" y1="424.0" x2="587.2" y2="436.0" stroke="#2a9d8f" stroke-width="1" stroke-opacity="0.85"/>
<rect x="585.7" y="426.0" width="2.9" height="8.0" fill="#2a9d8f"/>
<line x1="590.9" y1="422.2" x2="590.9" y2="426.5" stroke="#2a9d8f" stroke-width="1" stroke-opacity="0.85"/>
<rect x="589.5" y="424.7" width="2.9" height="1.3" fill="#2a9d8f"/>
<line x1="594.7" y1="420.0" x2="594.7" y2="430.7" stroke="#2a9d8f" stroke-width="1" stroke-opacity="0.85"/>
<rect x="593.3" y="421.0" width="2.9" height="3.7" fill="#2a9d8f"/>
<line x1="598.5" y1="408.0" x2="598.5" y2="427.0" stroke="#2a9d8f" stroke-width="1" stroke-opacity="0.85"/>
<rect x="597.0" y="413.0" width="2.9" height="8.0" fill="#2a9d8f"/>
<line x1="602.3" y1="412.5" x2="602.3" y2="433.0" stroke="#0c0c0c" stroke-width="1" stroke-opacity="0.85"/>
<rect x="600.8" y="413.0" width="2.9" height="12.0" fill="#0c0c0c"/>
<line x1="606.0" y1="402.0" x2="606.0" y2="428.0" stroke="#2a9d8f" stroke-width="1" stroke-opacity="0.85"/>
<rect x="604.6" y="407.0" width="2.9" height="18.0" fill="#2a9d8f"/>
<line x1="609.8" y1="392.0" x2="609.8" y2="413.0" stroke="#2a9d8f" stroke-width="1" stroke-opacity="0.85"/>
<rect x="608.3" y="399.0" width="2.9" height="8.0" fill="#2a9d8f"/>
<line x1="613.6" y1="394.0" x2="613.6" y2="401.5" stroke="#2a9d8f" stroke-width="1" stroke-opacity="0.85"/>
<rect x="612.1" y="396.0" width="2.9" height="3.0" fill="#2a9d8f"/>
<line x1="617.3" y1="353.0" x2="617.3" y2="402.0" stroke="#2a9d8f" stroke-width="1" stroke-opacity="0.85"/>
<rect x="615.9" y="358.0" width="2.9" height="38.0" fill="#2a9d8f"/>
<line x1="621.1" y1="350.0" x2="621.1" y2="371.0" stroke="#2a9d8f" stroke-width="1" stroke-opacity="0.85"/>
<rect x="619.7" y="354.0" width="2.9" height="4.0" fill="#2a9d8f"/>
<line x1="624.9" y1="345.6" x2="624.9" y2="356.0" stroke="#2a9d8f" stroke-width="1" stroke-opacity="0.85"/>
<rect x="623.4" y="351.6" width="2.9" height="2.4" fill="#2a9d8f"/>
<line x1="628.7" y1="345.6" x2="628.7" y2="368.5" stroke="#0c0c0c" stroke-width="1" stroke-opacity="0.85"/>
<rect x="627.2" y="351.6" width="2.9" height="14.4" fill="#0c0c0c"/>
<line x1="632.4" y1="356.0" x2="632.4" y2="382.0" stroke="#2a9d8f" stroke-width="1" stroke-opacity="0.85"/>
<rect x="631.0" y="362.0" width="2.9" height="4.0" fill="#2a9d8f"/>
<line x1="636.2" y1="330.8" x2="636.2" y2="363.5" stroke="#2a9d8f" stroke-width="1" stroke-opacity="0.85"/>
<rect x="634.7" y="335.8" width="2.9" height="26.2" fill="#2a9d8f"/>
<line x1="640.0" y1="331.8" x2="640.0" y2="348.6" stroke="#0c0c0c" stroke-width="1" stroke-opacity="0.85"/>
<rect x="638.5" y="335.8" width="2.9" height="11.8" fill="#0c0c0c"/>
<line x1="643.7" y1="341.0" x2="643.7" y2="378.0" stroke="#0c0c0c" stroke-width="1" stroke-opacity="0.85"/>
<rect x="642.3" y="347.6" width="2.9" height="23.4" fill="#0c0c0c"/>
<line x1="647.5" y1="351.0" x2="647.5" y2="372.0" stroke="#2a9d8f" stroke-width="1" stroke-opacity="0.85"/>
<rect x="646.1" y="354.0" width="2.9" height="17.0" fill="#2a9d8f"/>
<line x1="651.3" y1="347.0" x2="651.3" y2="358.0" stroke="#2a9d8f" stroke-width="1" stroke-opacity="0.85"/>
<rect x="649.8" y="349.0" width="2.9" height="5.0" fill="#2a9d8f"/>
<line x1="655.0" y1="336.0" x2="655.0" y2="359.5" stroke="#2a9d8f" stroke-width="1" stroke-opacity="0.85"/>
<rect x="653.6" y="337.0" width="2.9" height="12.0" fill="#2a9d8f"/>
<line x1="658.8" y1="317.0" x2="658.8" y2="344.6" stroke="#2a9d8f" stroke-width="1" stroke-opacity="0.85"/>
<rect x="657.4" y="321.0" width="2.9" height="16.0" fill="#2a9d8f"/>
<line x1="662.6" y1="319.5" x2="662.6" y2="335.0" stroke="#0c0c0c" stroke-width="1" stroke-opacity="0.85"/>
<rect x="661.1" y="321.0" width="2.9" height="11.0" fill="#0c0c0c"/>
<line x1="666.4" y1="301.6" x2="666.4" y2="334.5" stroke="#2a9d8f" stroke-width="1" stroke-opacity="0.85"/>
<rect x="664.9" y="317.0" width="2.9" height="15.0" fill="#2a9d8f"/>
<line x1="670.1" y1="315.5" x2="670.1" y2="331.6" stroke="#0c0c0c" stroke-width="1" stroke-opacity="0.85"/>
<rect x="668.7" y="317.0" width="2.9" height="9.6" fill="#0c0c0c"/>
<line x1="673.9" y1="308.8" x2="673.9" y2="327.6" stroke="#2a9d8f" stroke-width="1" stroke-opacity="0.85"/>
<rect x="672.5" y="310.8" width="2.9" height="15.8" fill="#2a9d8f"/>
<line x1="677.7" y1="305.5" x2="677.7" y2="315.8" stroke="#2a9d8f" stroke-width="1" stroke-opacity="0.85"/>
<rect x="676.2" y="309.5" width="2.9" height="1.3" fill="#2a9d8f"/>
<line x1="681.4" y1="308.0" x2="681.4" y2="323.0" stroke="#0c0c0c" stroke-width="1" stroke-opacity="0.85"/>
<rect x="680.0" y="309.5" width="2.9" height="7.5" fill="#0c0c0c"/>
<line x1="685.2" y1="305.3" x2="685.2" y2="321.0" stroke="#2a9d8f" stroke-width="1" stroke-opacity="0.85"/>
<rect x="683.8" y="306.8" width="2.9" height="10.2" fill="#2a9d8f"/>
<line x1="689.0" y1="284.5" x2="689.0" y2="322.6" stroke="#2a9d8f" stroke-width="1" stroke-opacity="0.85"/>
<rect x="687.5" y="296.0" width="2.9" height="10.8" fill="#2a9d8f"/>
<line x1="692.8" y1="291.0" x2="692.8" y2="303.0" stroke="#0c0c0c" stroke-width="1" stroke-opacity="0.85"/>
<rect x="691.3" y="296.0" width="2.9" height="1.6" fill="#0c0c0c"/>
<line x1="696.5" y1="283.8" x2="696.5" y2="303.0" stroke="#2a9d8f" stroke-width="1" stroke-opacity="0.85"/>
<rect x="695.1" y="285.8" width="2.9" height="11.8" fill="#2a9d8f"/>
<line x1="700.3" y1="248.0" x2="700.3" y2="286.8" stroke="#2a9d8f" stroke-width="1" stroke-opacity="0.85"/>
<rect x="698.8" y="251.0" width="2.9" height="34.8" fill="#2a9d8f"/>
<line x1="704.1" y1="222.0" x2="704.1" y2="251.5" stroke="#2a9d8f" stroke-width="1" stroke-opacity="0.85"/>
<rect x="702.6" y="226.6" width="2.9" height="24.4" fill="#2a9d8f"/>
<line x1="707.8" y1="223.6" x2="707.8" y2="235.0" stroke="#0c0c0c" stroke-width="1" stroke-opacity="0.85"/>
<rect x="706.4" y="226.6" width="2.9" height="2.4" fill="#0c0c0c"/>
<line x1="711.6" y1="211.7" x2="711.6" y2="234.0" stroke="#2a9d8f" stroke-width="1" stroke-opacity="0.85"/>
<rect x="710.2" y="216.7" width="2.9" height="12.3" fill="#2a9d8f"/>
<line x1="715.4" y1="216.2" x2="715.4" y2="223.0" stroke="#0c0c0c" stroke-width="1" stroke-opacity="0.85"/>
<rect x="713.9" y="216.7" width="2.9" height="2.3" fill="#0c0c0c"/>
<line x1="719.2" y1="200.0" x2="719.2" y2="225.0" stroke="#2a9d8f" stroke-width="1" stroke-opacity="0.85"/>
<rect x="717.7" y="203.0" width="2.9" height="16.0" fill="#2a9d8f"/>
<line x1="722.9" y1="200.5" x2="722.9" y2="210.0" stroke="#0c0c0c" stroke-width="1" stroke-opacity="0.85"/>
<rect x="721.5" y="203.0" width="2.9" height="1.2" fill="#0c0c0c"/>
<line x1="726.7" y1="203.0" x2="726.7" y2="212.8" stroke="#0c0c0c" stroke-width="1" stroke-opacity="0.85"/>
<rect x="725.2" y="204.0" width="2.9" height="7.8" fill="#0c0c0c"/>
<line x1="730.5" y1="209.8" x2="730.5" y2="216.5" stroke="#0c0c0c" stroke-width="1" stroke-opacity="0.85"/>
<rect x="729.0" y="211.8" width="2.9" height="3.7" fill="#0c0c0c"/>
<line x1="734.2" y1="207.0" x2="734.2" y2="230.5" stroke="#0c0c0c" stroke-width="1" stroke-opacity="0.85"/>
<rect x="732.8" y="215.5" width="2.9" height="12.5" fill="#0c0c0c"/>
<line x1="738.0" y1="225.5" x2="738.0" y2="249.0" stroke="#0c0c0c" stroke-width="1" stroke-opacity="0.85"/>
<rect x="736.6" y="228.0" width="2.9" height="5.0" fill="#0c0c0c"/>
<line x1="741.8" y1="210.3" x2="741.8" y2="235.5" stroke="#2a9d8f" stroke-width="1" stroke-opacity="0.85"/>
<rect x="740.3" y="211.8" width="2.9" height="21.2" fill="#2a9d8f"/>
<line x1="745.5" y1="173.0" x2="745.5" y2="215.8" stroke="#2a9d8f" stroke-width="1" stroke-opacity="0.85"/>
<rect x="744.1" y="187.0" width="2.9" height="24.8" fill="#2a9d8f"/>
<line x1="749.3" y1="184.5" x2="749.3" y2="196.0" stroke="#0c0c0c" stroke-width="1" stroke-opacity="0.85"/>
<rect x="747.9" y="187.0" width="2.9" height="5.0" fill="#0c0c0c"/>
<line x1="753.1" y1="190.5" x2="753.1" y2="199.0" stroke="#0c0c0c" stroke-width="1" stroke-opacity="0.85"/>
<rect x="751.6" y="192.0" width="2.9" height="1.2" fill="#0c0c0c"/>
<line x1="756.9" y1="187.0" x2="756.9" y2="215.5" stroke="#0c0c0c" stroke-width="1" stroke-opacity="0.85"/>
<rect x="755.4" y="193.0" width="2.9" height="11.0" fill="#0c0c0c"/>
<line x1="760.6" y1="179.6" x2="760.6" y2="214.0" stroke="#0c0c0c" stroke-width="1" stroke-opacity="0.85"/>
<rect x="759.2" y="204.0" width="2.9" height="9.0" fill="#0c0c0c"/>
<line x1="764.4" y1="210.5" x2="764.4" y2="228.5" stroke="#0c0c0c" stroke-width="1" stroke-opacity="0.85"/>
<rect x="762.9" y="213.0" width="2.9" height="15.0" fill="#0c0c0c"/>
<line x1="768.2" y1="210.3" x2="768.2" y2="232.0" stroke="#2a9d8f" stroke-width="1" stroke-opacity="0.85"/>
<rect x="766.7" y="211.8" width="2.9" height="16.2" fill="#2a9d8f"/>
<line x1="771.9" y1="210.8" x2="771.9" y2="239.1" stroke="#0c0c0c" stroke-width="1" stroke-opacity="0.85"/>
<rect x="770.5" y="211.8" width="2.9" height="24.8" fill="#0c0c0c"/>
<line x1="775.7" y1="236.1" x2="775.7" y2="245.0" stroke="#0c0c0c" stroke-width="1" stroke-opacity="0.85"/>
<rect x="774.3" y="236.6" width="2.9" height="7.4" fill="#0c0c0c"/>
<line x1="779.5" y1="241.5" x2="779.5" y2="270.0" stroke="#0c0c0c" stroke-width="1" stroke-opacity="0.85"/>
<rect x="778.0" y="244.0" width="2.9" height="19.8" fill="#0c0c0c"/>
<line x1="783.3" y1="254.0" x2="783.3" y2="278.6" stroke="#2a9d8f" stroke-width="1" stroke-opacity="0.85"/>
<rect x="781.8" y="256.0" width="2.9" height="7.8" fill="#2a9d8f"/>
<line x1="787.0" y1="252.5" x2="787.0" y2="257.0" stroke="#2a9d8f" stroke-width="1" stroke-opacity="0.85"/>
<rect x="785.6" y="255.0" width="2.9" height="1.2" fill="#2a9d8f"/>
<line x1="790.8" y1="244.0" x2="790.8" y2="255.5" stroke="#2a9d8f" stroke-width="1" stroke-opacity="0.85"/>
<rect x="789.3" y="249.0" width="2.9" height="6.0" fill="#2a9d8f"/>
<line x1="794.6" y1="241.5" x2="794.6" y2="255.0" stroke="#2a9d8f" stroke-width="1" stroke-opacity="0.85"/>
<rect x="793.1" y="247.7" width="2.9" height="1.3" fill="#2a9d8f"/>
<line x1="798.3" y1="243.7" x2="798.3" y2="253.9" stroke="#0c0c0c" stroke-width="1" stroke-opacity="0.85"/>
<rect x="796.9" y="247.7" width="2.9" height="3.7" fill="#0c0c0c"/>
<line x1="802.1" y1="235.1" x2="802.1" y2="271.0" stroke="#2a9d8f" stroke-width="1" stroke-opacity="0.85"/>
<rect x="800.7" y="236.6" width="2.9" height="14.8" fill="#2a9d8f"/>
<line x1="805.9" y1="220.5" x2="805.9" y2="241.0" stroke="#0c0c0c" stroke-width="1" stroke-opacity="0.85"/>
<rect x="804.4" y="236.6" width="2.9" height="2.4" fill="#0c0c0c"/>
<line x1="809.6" y1="238.0" x2="809.6" y2="243.0" stroke="#0c0c0c" stroke-width="1" stroke-opacity="0.85"/>
<rect x="808.2" y="239.0" width="2.9" height="2.5" fill="#0c0c0c"/>
<line x1="813.4" y1="239.0" x2="813.4" y2="256.5" stroke="#0c0c0c" stroke-width="1" stroke-opacity="0.85"/>
<rect x="812.0" y="241.5" width="2.9" height="14.5" fill="#0c0c0c"/>
<line x1="817.2" y1="235.1" x2="817.2" y2="261.0" stroke="#2a9d8f" stroke-width="1" stroke-opacity="0.85"/>
<rect x="815.7" y="236.6" width="2.9" height="19.4" fill="#2a9d8f"/>
<line x1="821.0" y1="234.1" x2="821.0" y2="257.5" stroke="#0c0c0c" stroke-width="1" stroke-opacity="0.85"/>
<rect x="819.5" y="236.6" width="2.9" height="18.4" fill="#0c0c0c"/>
<line x1="824.7" y1="249.0" x2="824.7" y2="260.8" stroke="#0c0c0c" stroke-width="1" stroke-opacity="0.85"/>
<rect x="823.3" y="255.0" width="2.9" height="3.8" fill="#0c0c0c"/>
<line x1="828.5" y1="230.3" x2="828.5" y2="270.0" stroke="#2a9d8f" stroke-width="1" stroke-opacity="0.85"/>
<rect x="827.1" y="232.8" width="2.9" height="26.0" fill="#2a9d8f"/>
<line x1="832.3" y1="192.0" x2="832.3" y2="234.3" stroke="#2a9d8f" stroke-width="1" stroke-opacity="0.85"/>
<rect x="830.8" y="198.0" width="2.9" height="34.8" fill="#2a9d8f"/>
<line x1="836.0" y1="183.0" x2="836.0" y2="201.0" stroke="#2a9d8f" stroke-width="1" stroke-opacity="0.85"/>
<rect x="834.6" y="188.0" width="2.9" height="10.0" fill="#2a9d8f"/>
<line x1="839.8" y1="187.5" x2="839.8" y2="210.5" stroke="#0c0c0c" stroke-width="1" stroke-opacity="0.85"/>
<rect x="838.4" y="188.0" width="2.9" height="12.6" fill="#0c0c0c"/>
<line x1="843.6" y1="191.5" x2="843.6" y2="201.1" stroke="#2a9d8f" stroke-width="1" stroke-opacity="0.85"/>
<rect x="842.1" y="192.0" width="2.9" height="8.6" fill="#2a9d8f"/>
<line x1="847.4" y1="177.5" x2="847.4" y2="198.0" stroke="#2a9d8f" stroke-width="1" stroke-opacity="0.85"/>
<rect x="845.9" y="178.0" width="2.9" height="14.0" fill="#2a9d8f"/>
<line x1="851.1" y1="151.0" x2="851.1" y2="180.0" stroke="#2a9d8f" stroke-width="1" stroke-opacity="0.85"/>
<rect x="849.7" y="175.0" width="2.9" height="3.0" fill="#2a9d8f"/>
<line x1="854.9" y1="169.0" x2="854.9" y2="190.8" stroke="#0c0c0c" stroke-width="1" stroke-opacity="0.85"/>
<rect x="853.4" y="175.0" width="2.9" height="10.8" fill="#0c0c0c"/>
<line x1="858.7" y1="183.8" x2="858.7" y2="203.0" stroke="#0c0c0c" stroke-width="1" stroke-opacity="0.85"/>
<rect x="857.2" y="185.8" width="2.9" height="12.2" fill="#0c0c0c"/>
<line x1="862.4" y1="197.0" x2="862.4" y2="209.5" stroke="#0c0c0c" stroke-width="1" stroke-opacity="0.85"/>
<rect x="861.0" y="198.0" width="2.9" height="7.5" fill="#0c0c0c"/>
<line x1="866.2" y1="200.5" x2="866.2" y2="227.0" stroke="#0c0c0c" stroke-width="1" stroke-opacity="0.85"/>
<rect x="864.8" y="205.5" width="2.9" height="15.5" fill="#0c0c0c"/>
<line x1="870.0" y1="217.0" x2="870.0" y2="245.6" stroke="#0c0c0c" stroke-width="1" stroke-opacity="0.85"/>
<rect x="868.5" y="221.0" width="2.9" height="18.6" fill="#0c0c0c"/>
<line x1="873.8" y1="237.1" x2="873.8" y2="252.0" stroke="#0c0c0c" stroke-width="1" stroke-opacity="0.85"/>
<rect x="872.3" y="239.6" width="2.9" height="9.4" fill="#0c0c0c"/>
<line x1="877.5" y1="230.0" x2="877.5" y2="252.0" stroke="#2a9d8f" stroke-width="1" stroke-opacity="0.85"/>
<rect x="876.1" y="232.0" width="2.9" height="17.0" fill="#2a9d8f"/>
<line x1="881.3" y1="225.0" x2="881.3" y2="233.5" stroke="#2a9d8f" stroke-width="1" stroke-opacity="0.85"/>
<rect x="879.8" y="227.0" width="2.9" height="5.0" fill="#2a9d8f"/>
<line x1="885.1" y1="221.6" x2="885.1" y2="230.0" stroke="#2a9d8f" stroke-width="1" stroke-opacity="0.85"/>
<rect x="883.6" y="225.6" width="2.9" height="1.4" fill="#2a9d8f"/>
<line x1="888.8" y1="225.1" x2="888.8" y2="241.0" stroke="#0c0c0c" stroke-width="1" stroke-opacity="0.85"/>
<rect x="887.4" y="225.6" width="2.9" height="10.9" fill="#0c0c0c"/>
<line x1="892.6" y1="218.9" x2="892.6" y2="237.5" stroke="#2a9d8f" stroke-width="1" stroke-opacity="0.85"/>
<rect x="891.2" y="219.4" width="2.9" height="17.1" fill="#2a9d8f"/>
<line x1="896.4" y1="216.9" x2="896.4" y2="237.4" stroke="#0c0c0c" stroke-width="1" stroke-opacity="0.85"/>
<rect x="894.9" y="219.4" width="2.9" height="14.0" fill="#0c0c0c"/>
<line x1="900.1" y1="228.5" x2="900.1" y2="233.9" stroke="#2a9d8f" stroke-width="1" stroke-opacity="0.85"/>
<rect x="898.7" y="230.0" width="2.9" height="3.4" fill="#2a9d8f"/>
<line x1="903.9" y1="215.0" x2="903.9" y2="234.0" stroke="#2a9d8f" stroke-width="1" stroke-opacity="0.85"/>
<rect x="902.5" y="216.0" width="2.9" height="14.0" fill="#2a9d8f"/>
<line x1="907.7" y1="210.0" x2="907.7" y2="228.1" stroke="#0c0c0c" stroke-width="1" stroke-opacity="0.85"/>
<rect x="906.2" y="216.0" width="2.9" height="9.6" fill="#0c0c0c"/>
<line x1="911.5" y1="223.6" x2="911.5" y2="239.6" stroke="#0c0c0c" stroke-width="1" stroke-opacity="0.85"/>
<rect x="910.0" y="225.6" width="2.9" height="7.8" fill="#0c0c0c"/>
<line x1="915.2" y1="222.5" x2="915.2" y2="241.5" stroke="#0c0c0c" stroke-width="1" stroke-opacity="0.85"/>
<rect x="913.8" y="233.4" width="2.9" height="3.1" fill="#0c0c0c"/>
<line x1="919.0" y1="235.0" x2="919.0" y2="241.5" stroke="#0c0c0c" stroke-width="1" stroke-opacity="0.85"/>
<rect x="917.6" y="236.5" width="2.9" height="3.5" fill="#0c0c0c"/>
<line x1="922.8" y1="237.5" x2="922.8" y2="252.0" stroke="#0c0c0c" stroke-width="1" stroke-opacity="0.85"/>
<rect x="921.3" y="240.0" width="2.9" height="7.0" fill="#0c0c0c"/>
<line x1="926.5" y1="246.5" x2="926.5" y2="276.7" stroke="#0c0c0c" stroke-width="1" stroke-opacity="0.85"/>
<rect x="925.1" y="247.0" width="2.9" height="19.0" fill="#0c0c0c"/>
<line x1="930.3" y1="263.0" x2="930.3" y2="374.0" stroke="#0c0c0c" stroke-width="1" stroke-opacity="0.85"/>
<rect x="928.9" y="266.0" width="2.9" height="57.0" fill="#0c0c0c"/>
<line x1="934.1" y1="314.0" x2="934.1" y2="335.6" stroke="#0c0c0c" stroke-width="1" stroke-opacity="0.85"/>
<rect x="932.6" y="323.0" width="2.9" height="5.0" fill="#0c0c0c"/>
<line x1="937.9" y1="312.0" x2="937.9" y2="330.0" stroke="#0c0c0c" stroke-width="1" stroke-opacity="0.85"/>
<rect x="936.4" y="328.0" width="2.9" height="1.5" fill="#0c0c0c"/>
<line x1="941.6" y1="327.0" x2="941.6" y2="353.0" stroke="#0c0c0c" stroke-width="1" stroke-opacity="0.85"/>
<rect x="940.2" y="329.5" width="2.9" height="21.5" fill="#0c0c0c"/>
<line x1="945.4" y1="328.0" x2="945.4" y2="352.5" stroke="#2a9d8f" stroke-width="1" stroke-opacity="0.85"/>
<rect x="943.9" y="331.0" width="2.9" height="20.0" fill="#2a9d8f"/>
<line x1="949.2" y1="330.5" x2="949.2" y2="374.0" stroke="#0c0c0c" stroke-width="1" stroke-opacity="0.85"/>
<rect x="947.7" y="331.0" width="2.9" height="21.7" fill="#0c0c0c"/>
<line x1="952.9" y1="331.6" x2="952.9" y2="363.5" stroke="#2a9d8f" stroke-width="1" stroke-opacity="0.85"/>
<rect x="951.5" y="335.6" width="2.9" height="17.1" fill="#2a9d8f"/>
<line x1="956.7" y1="326.0" x2="956.7" y2="338.1" stroke="#2a9d8f" stroke-width="1" stroke-opacity="0.85"/>
<rect x="955.3" y="331.0" width="2.9" height="4.6" fill="#2a9d8f"/>
<line x1="960.5" y1="323.5" x2="960.5" y2="333.0" stroke="#2a9d8f" stroke-width="1" stroke-opacity="0.85"/>
<rect x="959.0" y="329.5" width="2.9" height="1.5" fill="#2a9d8f"/>
<line x1="964.3" y1="323.0" x2="964.3" y2="369.5" stroke="#0c0c0c" stroke-width="1" stroke-opacity="0.85"/>
<rect x="962.8" y="329.5" width="2.9" height="34.0" fill="#0c0c0c"/>
<line x1="968.0" y1="363.0" x2="968.0" y2="372.0" stroke="#0c0c0c" stroke-width="1" stroke-opacity="0.85"/>
<rect x="966.6" y="363.5" width="2.9" height="7.5" fill="#0c0c0c"/>
<line x1="971.8" y1="351.0" x2="971.8" y2="398.0" stroke="#0c0c0c" stroke-width="1" stroke-opacity="0.85"/>
<rect x="970.3" y="371.0" width="2.9" height="26.0" fill="#0c0c0c"/>
<line x1="975.6" y1="381.5" x2="975.6" y2="415.6" stroke="#2a9d8f" stroke-width="1" stroke-opacity="0.85"/>
<rect x="974.1" y="383.0" width="2.9" height="14.0" fill="#2a9d8f"/>
<line x1="979.3" y1="374.2" x2="979.3" y2="387.0" stroke="#2a9d8f" stroke-width="1" stroke-opacity="0.85"/>
<rect x="977.9" y="374.7" width="2.9" height="8.3" fill="#2a9d8f"/>
<line x1="983.1" y1="355.0" x2="983.1" y2="377.2" stroke="#2a9d8f" stroke-width="1" stroke-opacity="0.85"/>
<rect x="981.7" y="368.5" width="2.9" height="6.2" fill="#2a9d8f"/>
<line x1="986.9" y1="358.6" x2="986.9" y2="374.0" stroke="#0c0c0c" stroke-width="1" stroke-opacity="0.85"/>
<rect x="985.4" y="368.5" width="2.9" height="3.5" fill="#0c0c0c"/>
<line x1="990.6" y1="371.0" x2="990.6" y2="387.0" stroke="#0c0c0c" stroke-width="1" stroke-opacity="0.85"/>
<rect x="989.2" y="372.0" width="2.9" height="9.0" fill="#0c0c0c"/>
<line x1="994.4" y1="379.5" x2="994.4" y2="408.4" stroke="#0c0c0c" stroke-width="1" stroke-opacity="0.85"/>
<rect x="993.0" y="381.0" width="2.9" height="23.4" fill="#0c0c0c"/>
<line x1="998.2" y1="401.4" x2="998.2" y2="424.0" stroke="#0c0c0c" stroke-width="1" stroke-opacity="0.85"/>
<rect x="996.7" y="404.4" width="2.9" height="14.6" fill="#0c0c0c"/>
<line x1="1002.0" y1="417.5" x2="1002.0" y2="437.9" stroke="#0c0c0c" stroke-width="1" stroke-opacity="0.85"/>
<rect x="1000.5" y="419.0" width="2.9" height="16.4" fill="#0c0c0c"/>
<line x1="1005.7" y1="420.5" x2="1005.7" y2="459.0" stroke="#0c0c0c" stroke-width="1" stroke-opacity="0.85"/>
<rect x="1004.3" y="435.4" width="2.9" height="2.6" fill="#0c0c0c"/>
<line x1="1009.5" y1="430.5" x2="1009.5" y2="455.5" stroke="#0c0c0c" stroke-width="1" stroke-opacity="0.85"/>
<rect x="1008.1" y="438.0" width="2.9" height="13.5" fill="#0c0c0c"/>
<line x1="1013.3" y1="445.5" x2="1013.3" y2="490.0" stroke="#0c0c0c" stroke-width="1" stroke-opacity="0.85"/>
<rect x="1011.8" y="451.5" width="2.9" height="31.0" fill="#0c0c0c"/>
<line x1="1017.0" y1="455.0" x2="1017.0" y2="488.5" stroke="#2a9d8f" stroke-width="1" stroke-opacity="0.85"/>
<rect x="1015.6" y="459.0" width="2.9" height="23.5" fill="#2a9d8f"/>
<line x1="1020.8" y1="458.5" x2="1020.8" y2="462.0" stroke="#0c0c0c" stroke-width="1" stroke-opacity="0.85"/>
<rect x="1019.4" y="459.0" width="2.9" height="1.2" fill="#0c0c0c"/>
<line x1="1024.6" y1="457.7" x2="1024.6" y2="491.0" stroke="#0c0c0c" stroke-width="1" stroke-opacity="0.85"/>
<rect x="1023.1" y="460.0" width="2.9" height="18.8" fill="#0c0c0c"/>
<line x1="1028.4" y1="451.5" x2="1028.4" y2="483.7" stroke="#2a9d8f" stroke-width="1" stroke-opacity="0.85"/>
<rect x="1026.9" y="464.0" width="2.9" height="14.8" fill="#2a9d8f"/>
<line x1="1032.1" y1="426.7" x2="1032.1" y2="465.0" stroke="#2a9d8f" stroke-width="1" stroke-opacity="0.85"/>
<rect x="1030.7" y="439.0" width="2.9" height="25.0" fill="#2a9d8f"/>
<line x1="1035.9" y1="410.0" x2="1035.9" y2="444.0" stroke="#2a9d8f" stroke-width="1" stroke-opacity="0.85"/>
<rect x="1034.4" y="414.0" width="2.9" height="25.0" fill="#2a9d8f"/>
<line x1="1039.7" y1="408.0" x2="1039.7" y2="423.5" stroke="#0c0c0c" stroke-width="1" stroke-opacity="0.85"/>
<rect x="1038.2" y="414.0" width="2.9" height="9.0" fill="#0c0c0c"/>
<line x1="1043.4" y1="422.5" x2="1043.4" y2="436.5" stroke="#0c0c0c" stroke-width="1" stroke-opacity="0.85"/>
<rect x="1042.0" y="423.0" width="2.9" height="7.5" fill="#0c0c0c"/>
<line x1="1047.2" y1="428.5" x2="1047.2" y2="443.0" stroke="#0c0c0c" stroke-width="1" stroke-opacity="0.85"/>
<rect x="1045.8" y="430.5" width="2.9" height="3.5" fill="#0c0c0c"/>
<line x1="1051.0" y1="420.5" x2="1051.0" y2="434.5" stroke="#2a9d8f" stroke-width="1" stroke-opacity="0.85"/>
<rect x="1049.5" y="423.0" width="2.9" height="11.0" fill="#2a9d8f"/>
<line x1="1054.8" y1="418.0" x2="1054.8" y2="431.5" stroke="#0c0c0c" stroke-width="1" stroke-opacity="0.85"/>
<rect x="1053.3" y="423.0" width="2.9" height="7.5" fill="#0c0c0c"/>
<line x1="1058.5" y1="414.0" x2="1058.5" y2="436.5" stroke="#2a9d8f" stroke-width="1" stroke-opacity="0.85"/>
<rect x="1057.1" y="424.0" width="2.9" height="6.5" fill="#2a9d8f"/>
<line x1="1062.3" y1="423.0" x2="1062.3" y2="441.4" stroke="#0c0c0c" stroke-width="1" stroke-opacity="0.85"/>
<rect x="1060.8" y="424.0" width="2.9" height="11.4" fill="#0c0c0c"/>
<line x1="1066.1" y1="428.0" x2="1066.1" y2="440.4" stroke="#2a9d8f" stroke-width="1" stroke-opacity="0.85"/>
<rect x="1064.6" y="429.0" width="2.9" height="6.4" fill="#2a9d8f"/>
<line x1="1069.8" y1="426.5" x2="1069.8" y2="446.6" stroke="#0c0c0c" stroke-width="1" stroke-opacity="0.85"/>
<rect x="1068.4" y="429.0" width="2.9" height="15.0" fill="#0c0c0c"/>
<line x1="1073.6" y1="421.5" x2="1073.6" y2="454.0" stroke="#2a9d8f" stroke-width="1" stroke-opacity="0.85"/>
<rect x="1072.2" y="424.0" width="2.9" height="20.0" fill="#2a9d8f"/>
<line x1="1077.4" y1="405.0" x2="1077.4" y2="426.0" stroke="#2a9d8f" stroke-width="1" stroke-opacity="0.85"/>
<rect x="1075.9" y="407.0" width="2.9" height="17.0" fill="#2a9d8f"/>
<line x1="1081.1" y1="378.0" x2="1081.1" y2="412.0" stroke="#2a9d8f" stroke-width="1" stroke-opacity="0.85"/>
<rect x="1079.7" y="383.0" width="2.9" height="24.0" fill="#2a9d8f"/>
<line x1="1084.9" y1="379.0" x2="1084.9" y2="388.0" stroke="#0c0c0c" stroke-width="1" stroke-opacity="0.85"/>
<rect x="1083.5" y="383.0" width="2.9" height="4.0" fill="#0c0c0c"/>
<line x1="1088.7" y1="382.0" x2="1088.7" y2="395.5" stroke="#0c0c0c" stroke-width="1" stroke-opacity="0.85"/>
<rect x="1087.2" y="387.0" width="2.9" height="6.0" fill="#0c0c0c"/>
<line x1="1092.5" y1="392.5" x2="1092.5" y2="404.0" stroke="#0c0c0c" stroke-width="1" stroke-opacity="0.85"/>
<rect x="1091.0" y="393.0" width="2.9" height="9.0" fill="#0c0c0c"/>
<line x1="1096.2" y1="401.0" x2="1096.2" y2="415.6" stroke="#0c0c0c" stroke-width="1" stroke-opacity="0.85"/>
<rect x="1094.8" y="402.0" width="2.9" height="3.7" fill="#0c0c0c"/>
<line x1="1100.0" y1="368.0" x2="1100.0" y2="408.2" stroke="#2a9d8f" stroke-width="1" stroke-opacity="0.85"/>
<rect x="1098.6" y="371.0" width="2.9" height="34.7" fill="#2a9d8f"/>
<line x1="1103.8" y1="362.0" x2="1103.8" y2="375.0" stroke="#0c0c0c" stroke-width="1" stroke-opacity="0.85"/>
<rect x="1102.3" y="371.0" width="2.9" height="2.5" fill="#0c0c0c"/>
<line x1="1107.5" y1="367.0" x2="1107.5" y2="391.0" stroke="#0c0c0c" stroke-width="1" stroke-opacity="0.85"/>
<rect x="1106.1" y="373.5" width="2.9" height="12.5" fill="#0c0c0c"/>
<line x1="1111.3" y1="385.5" x2="1111.3" y2="398.0" stroke="#0c0c0c" stroke-width="1" stroke-opacity="0.85"/>
<rect x="1109.9" y="386.0" width="2.9" height="7.0" fill="#0c0c0c"/>
<line x1="1115.1" y1="390.5" x2="1115.1" y2="406.7" stroke="#0c0c0c" stroke-width="1" stroke-opacity="0.85"/>
<rect x="1113.6" y="393.0" width="2.9" height="12.7" fill="#0c0c0c"/>
<line x1="1118.9" y1="403.7" x2="1118.9" y2="417.0" stroke="#0c0c0c" stroke-width="1" stroke-opacity="0.85"/>
<rect x="1117.4" y="405.7" width="2.9" height="4.9" fill="#0c0c0c"/>
<line x1="1122.6" y1="390.5" x2="1122.6" y2="418.0" stroke="#2a9d8f" stroke-width="1" stroke-opacity="0.85"/>
<rect x="1121.2" y="393.0" width="2.9" height="17.6" fill="#2a9d8f"/>
<line x1="1126.4" y1="382.0" x2="1126.4" y2="400.8" stroke="#0c0c0c" stroke-width="1" stroke-opacity="0.85"/>
<rect x="1124.9" y="393.0" width="2.9" height="2.8" fill="#0c0c0c"/>
<line x1="1130.2" y1="390.8" x2="1130.2" y2="412.0" stroke="#0c0c0c" stroke-width="1" stroke-opacity="0.85"/>
<rect x="1128.7" y="395.8" width="2.9" height="11.2" fill="#0c0c0c"/>
<line x1="1133.9" y1="386.7" x2="1133.9" y2="413.0" stroke="#2a9d8f" stroke-width="1" stroke-opacity="0.85"/>
<rect x="1132.5" y="387.7" width="2.9" height="19.3" fill="#2a9d8f"/>
<line x1="1137.7" y1="344.0" x2="1137.7" y2="390.2" stroke="#2a9d8f" stroke-width="1" stroke-opacity="0.85"/>
<rect x="1136.3" y="346.0" width="2.9" height="41.7" fill="#2a9d8f"/>
<line x1="1141.5" y1="331.0" x2="1141.5" y2="351.0" stroke="#2a9d8f" stroke-width="1" stroke-opacity="0.85"/>
<rect x="1140.0" y="332.0" width="2.9" height="14.0" fill="#2a9d8f"/>
<line x1="1145.3" y1="328.5" x2="1145.3" y2="347.5" stroke="#2a9d8f" stroke-width="1" stroke-opacity="0.85"/>
<rect x="1143.8" y="329.0" width="2.9" height="3.0" fill="#2a9d8f"/>
<line x1="1149.0" y1="314.7" x2="1149.0" y2="330.0" stroke="#2a9d8f" stroke-width="1" stroke-opacity="0.85"/>
<rect x="1147.6" y="319.7" width="2.9" height="9.3" fill="#2a9d8f"/>
<line x1="1152.8" y1="306.0" x2="1152.8" y2="324.7" stroke="#2a9d8f" stroke-width="1" stroke-opacity="0.85"/>
<rect x="1151.3" y="312.0" width="2.9" height="7.7" fill="#2a9d8f"/>
<line x1="1156.6" y1="296.5" x2="1156.6" y2="323.7" stroke="#0c0c0c" stroke-width="1" stroke-opacity="0.85"/>
<rect x="1155.1" y="312.0" width="2.9" height="7.7" fill="#0c0c0c"/>
<line x1="1160.3" y1="302.0" x2="1160.3" y2="321.7" stroke="#2a9d8f" stroke-width="1" stroke-opacity="0.85"/>
<rect x="1158.9" y="304.0" width="2.9" height="15.7" fill="#2a9d8f"/>
<line x1="1164.1" y1="292.4" x2="1164.1" y2="305.0" stroke="#2a9d8f" stroke-width="1" stroke-opacity="0.85"/>
<rect x="1162.7" y="293.4" width="2.9" height="10.6" fill="#2a9d8f"/>
<line x1="1167.9" y1="268.5" x2="1167.9" y2="299.4" stroke="#2a9d8f" stroke-width="1" stroke-opacity="0.85"/>
<rect x="1166.4" y="270.0" width="2.9" height="23.4" fill="#2a9d8f"/>
<line x1="1171.6" y1="250.5" x2="1171.6" y2="273.0" stroke="#2a9d8f" stroke-width="1" stroke-opacity="0.85"/>
<rect x="1170.2" y="253.0" width="2.9" height="17.0" fill="#2a9d8f"/>
<line x1="1175.4" y1="251.5" x2="1175.4" y2="282.0" stroke="#0c0c0c" stroke-width="1" stroke-opacity="0.85"/>
<rect x="1174.0" y="253.0" width="2.9" height="23.0" fill="#0c0c0c"/>
<line x1="1179.2" y1="262.0" x2="1179.2" y2="292.0" stroke="#0c0c0c" stroke-width="1" stroke-opacity="0.85"/>
<rect x="1177.7" y="276.0" width="2.9" height="8.0" fill="#0c0c0c"/>
<line x1="1183.0" y1="270.0" x2="1183.0" y2="293.0" stroke="#2a9d8f" stroke-width="1" stroke-opacity="0.85"/>
<rect x="1181.5" y="275.0" width="2.9" height="9.0" fill="#2a9d8f"/>
<line x1="1186.7" y1="248.0" x2="1186.7" y2="294.0" stroke="#2a9d8f" stroke-width="1" stroke-opacity="0.85"/>
<rect x="1185.3" y="253.0" width="2.9" height="22.0" fill="#2a9d8f"/>
<line x1="1190.5" y1="241.0" x2="1190.5" y2="291.0" stroke="#0c0c0c" stroke-width="1" stroke-opacity="0.85"/>
<rect x="1189.0" y="253.0" width="2.9" height="26.5" fill="#0c0c0c"/>
<clipPath id="axc"><rect x="1380" y="57.8" width="113" height="544"/></clipPath>
<g clip-path="url(#axc)">
<text x="1395.4" y="70.2" font-size="20.6" fill="#2a2e39">270.00</text>
<text x="1395.4" y="124.5" font-size="20.6" fill="#2a2e39">260.00</text>
<text x="1395.4" y="178.8" font-size="20.6" fill="#2a2e39">250.00</text>
<text x="1395.4" y="233.1" font-size="20.6" fill="#2a2e39">240.00</text>
<text x="1395.4" y="341.7" font-size="20.6" fill="#2a2e39">220.00</text>
<text x="1395.4" y="396.0" font-size="20.6" fill="#2a2e39">210.00</text>
<text x="1395.4" y="450.3" font-size="20.6" fill="#2a2e39">200.00</text>
<text x="1395.4" y="504.6" font-size="20.6" fill="#2a2e39">190.00</text>
<text x="1395.4" y="558.9" font-size="20.6" fill="#2a2e39">180.00</text>
</g>
<rect x="1380" y="75.8" width="87" height="29.400000000000006" rx="3" fill="#6f6f6f"/>
<text x="1395.4" y="97.8" font-size="20.6" fill="#f2f2f2">264.70</text>
<rect x="1380" y="141.7" width="87" height="30.100000000000023" rx="3" fill="#8b8b8b"/>
<text x="1395.4" y="164.1" font-size="20.6" fill="#f2f2f2">252.47</text>
<rect x="1380" y="113" width="87" height="28.69999999999999" rx="3" fill="#000"/>
<text x="1395.4" y="134.7" font-size="20.6" fill="#f2f2f2">252.61</text>
<rect x="1380" y="185" width="87" height="29.5" rx="3" fill="#6f6f6f"/>
<text x="1395.4" y="207.1" font-size="20.6" fill="#f2f2f2">244.58</text>
<rect x="1380" y="234.7" width="87" height="29.30000000000001" rx="3" fill="#8b8b8b"/>
<text x="1395.4" y="256.6" font-size="20.6" fill="#f2f2f2">233.78</text>
<rect x="1380" y="264" width="104.59999999999991" height="54.30000000000001" rx="4" fill="#000"/>
<text x="1395.4" y="286.8" font-size="20.6" fill="#f2f2f2">230.00</text>
<text x="1395.4" y="310.6" font-size="20.6" fill="#cfcfcf" textLength="78.8" lengthAdjust="spacingAndGlyphs">02:04:17</text>
<rect x="1380" y="343" width="87" height="29.399999999999977" rx="3" fill="#000"/>
<text x="1395.4" y="365.0" font-size="20.6" fill="#f2f2f2">215.49</text>
<rect x="1380" y="458.2" width="87" height="30.100000000000023" rx="3" fill="#000"/>
<text x="1395.4" y="480.6" font-size="20.6" fill="#f2f2f2">194.34</text>
<clipPath id="gc"><rect x="1380" y="560" width="90" height="41.5"/></clipPath><g clip-path="url(#gc)">
<rect x="1380" y="560" width="87.5" height="60" rx="3" fill="#1a9d87"/>
<text x="1395.4" y="583.9" font-size="20.6" fill="#fff">175.39</text>
<text x="1395.4" y="612.3" font-size="20.6" fill="#fff">174.95</text>
</g>
<rect x="1385.5" y="5.8" width="102" height="43.6" rx="7" fill="#fff" stroke="#ececec" stroke-width="1.4"/>
<text x="1402.5" y="34.3" font-size="19.5" fill="#2a2e39" textLength="48.5" lengthAdjust="spacingAndGlyphs">USDT</text>
<text x="50.7" y="633.2" font-size="20" fill="#1e222d" text-anchor="middle">14</text>
<text x="141.3" y="633.2" font-size="20" fill="#1e222d" text-anchor="middle">18</text>
<text x="231.7" y="633.2" font-size="20" fill="#1e222d" text-anchor="middle">22</text>
<text x="322.2" y="633.2" font-size="20" fill="#1e222d" text-anchor="middle">26</text>
<text x="458.1" y="633.2" font-size="20" fill="#1e222d" text-anchor="middle" font-weight="bold">Sep</text>
<text x="548.8" y="633.2" font-size="20" fill="#1e222d" text-anchor="middle">5</text>
<text x="639.3" y="633.2" font-size="20" fill="#1e222d" text-anchor="middle">9</text>
<text x="729.9" y="633.2" font-size="20" fill="#1e222d" text-anchor="middle">13</text>
<text x="820.6" y="633.2" font-size="20" fill="#1e222d" text-anchor="middle">17</text>
<text x="910.8" y="633.2" font-size="20" fill="#1e222d" text-anchor="middle">21</text>
<text x="1002" y="633.2" font-size="20" fill="#1e222d" text-anchor="middle">25</text>
<text x="1138" y="633.2" font-size="20" fill="#1e222d" text-anchor="middle" font-weight="bold">Oct</text>
<text x="1229" y="633.2" font-size="20" fill="#1e222d" text-anchor="middle">5</text>
<text x="1319.2" y="633.2" font-size="20" fill="#1e222d" text-anchor="middle">9</text>
<path d="M1490.6 0 L1493 0 L1493 8.5 Q1492 3.5 1490.6 0 Z" fill="#111"/>
<text x="7.2" y="34.8" font-size="20" font-weight="bold" fill="#131313" stroke="#131313" stroke-width="0.35" textLength="35.5" lengthAdjust="spacingAndGlyphs">SOL</text>
<text x="52" y="34.8" font-size="20" font-weight="bold" fill="#131313">/</text>
<text x="66.9" y="34.8" font-size="20" font-weight="bold" fill="#131313" stroke="#131313" stroke-width="0.35" textLength="86.8" lengthAdjust="spacingAndGlyphs">TetherUS</text>
<text x="161" y="34.8" font-size="20" font-weight="bold" fill="#131313" stroke="#131313" stroke-width="0.35" textLength="112.0" lengthAdjust="spacingAndGlyphs">PERPETUAL</text>
<text x="280.3" y="34.8" font-size="20" font-weight="bold" fill="#131313" stroke="#131313" stroke-width="0.35" textLength="104.9" lengthAdjust="spacingAndGlyphs">CONTRACT</text>
<circle cx="394.0" cy="27.5" r="1.6" fill="#131313"/>
<text x="405" y="34.8" font-size="20" font-weight="bold" fill="#131313" stroke="#131313" stroke-width="0.35" textLength="23.6" lengthAdjust="spacingAndGlyphs">4h</text>
<circle cx="438.0" cy="27.5" r="1.6" fill="#131313"/>
<text x="448.5" y="34.8" font-size="20" font-weight="bold" fill="#131313" stroke="#131313" stroke-width="0.35" textLength="75.9" lengthAdjust="spacingAndGlyphs">Binance</text>
</svg>
</body></html>
